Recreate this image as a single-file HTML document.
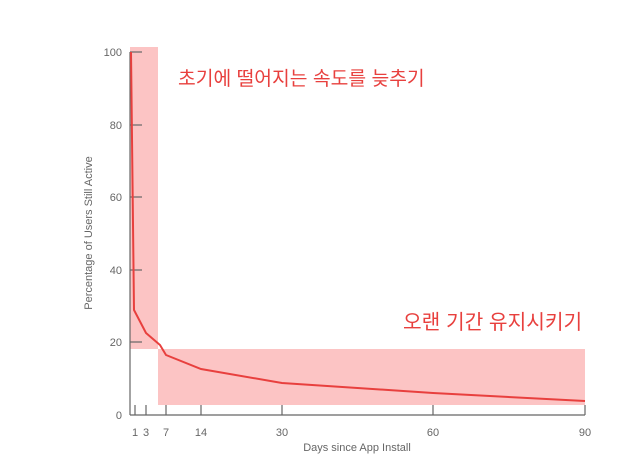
<!DOCTYPE html>
<html><head><meta charset="utf-8"><style>
body{margin:0;background:#fff}
svg{display:block;font-family:"Liberation Sans","Noto Sans CJK KR",sans-serif}
</style></head><body>
<svg width="630" height="467" viewBox="0 0 630 467">
<rect x="130" y="47" width="28" height="302" fill="#fcc4c4"/>
<rect x="158" y="349" width="427" height="56" fill="#fcc4c4"/>
<g stroke="#666" stroke-width="1.2" fill="none">
<line x1="130" y1="52" x2="130" y2="415"/>
<line x1="130" y1="415" x2="585" y2="415"/>
<line x1="130" y1="52" x2="142" y2="52"/>
<line x1="130" y1="125" x2="142" y2="125"/>
<line x1="130" y1="197" x2="142" y2="197"/>
<line x1="130" y1="270" x2="142" y2="270"/>
<line x1="130" y1="342" x2="142" y2="342"/>
<line x1="135" y1="405" x2="135" y2="415"/>
<line x1="146" y1="405" x2="146" y2="415"/>
<line x1="166" y1="405" x2="166" y2="415"/>
<line x1="201" y1="405" x2="201" y2="415"/>
<line x1="282" y1="405" x2="282" y2="415"/>
<line x1="433" y1="405" x2="433" y2="415"/>
<line x1="585" y1="405" x2="585" y2="415"/>
</g>
<polyline fill="none" stroke="#e8403e" stroke-width="2" points="131,52 134,310 146,333 160,345 166,355 201,369 282,383 433,393 585,401"/>
<g fill="#666" font-size="11" text-anchor="end">
<text x="122" y="56">100</text><text x="122" y="129">80</text><text x="122" y="201">60</text><text x="122" y="274">40</text><text x="122" y="346">20</text><text x="122" y="419">0</text>
</g>
<g fill="#666" font-size="11" text-anchor="middle">
<text x="135" y="436">1</text><text x="146" y="436">3</text><text x="166" y="436">7</text><text x="201" y="436">14</text><text x="282" y="436">30</text><text x="433" y="436">60</text><text x="585" y="436">90</text>
<text x="357" y="451">Days since App Install</text>
<text transform="translate(92,233) rotate(-90)">Percentage of Users Still Active</text>
</g>
<g fill="#e8403e">
<text x="178" y="85" font-size="19.3">초기에 떨어지는 속도를 늦추기</text>
<text x="403" y="329" font-size="20.3">오랜 기간 유지시키기</text>
</g>
</svg>
</body></html>
